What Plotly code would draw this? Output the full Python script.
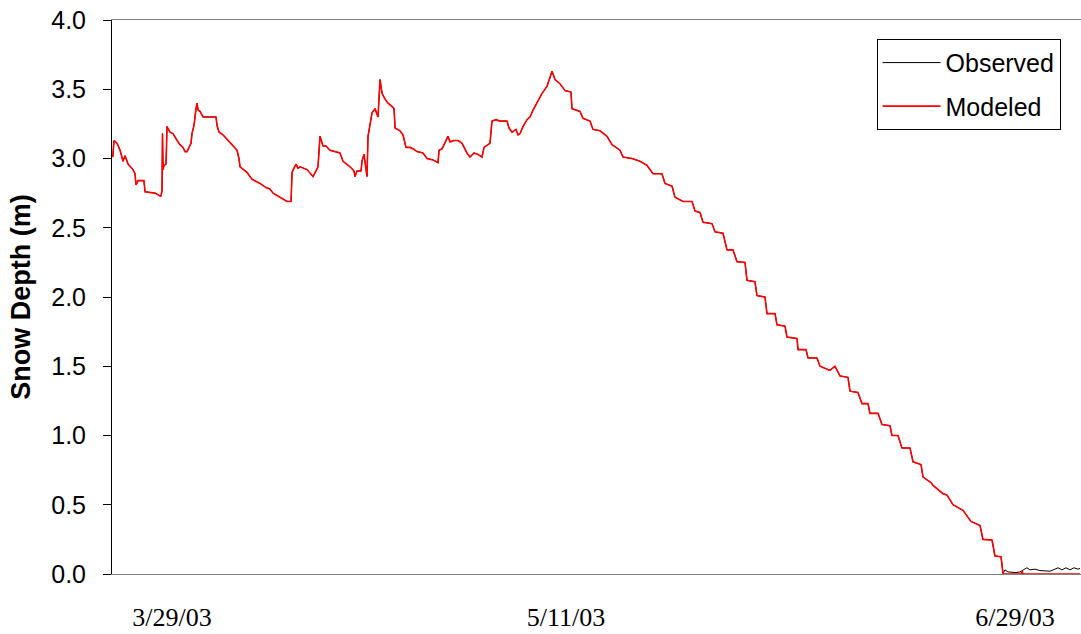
import pandas as pd
import plotly.graph_objects as go

# Time in days relative to 2003-03-29 00:00, snow depth in metres
mod_days = [
    -6.47, -6.33, -6.00, -5.67, -5.35, -5.13, -4.80, -4.26, -4.04, -3.93, -3.71, -3.06, -2.95,
    -1.86, -1.31, -1.20, -1.09, -1.04, -0.98, -0.87, -0.65, -0.55, -0.22, 0.11, 0.55, 0.87,
    1.20, 1.42, 1.64, 1.86, 2.07, 2.18, 2.40, 2.62, 2.73, 2.84, 3.06, 3.38, 4.80, 4.91, 5.13,
    5.57, 6.11, 6.66, 7.09, 7.31, 7.42, 8.18, 8.51, 8.73, 9.60, 10.26, 10.69, 11.02, 11.79,
    12.55, 12.99, 13.10, 13.31, 13.53, 13.75, 13.97, 14.73, 15.39, 15.71, 15.93, 16.15, 16.48,
    16.81, 17.24, 18.33, 18.66, 19.43, 19.86, 19.97, 20.19, 20.63, 20.73, 20.95, 21.17, 21.28,
    21.39, 21.83, 22.15, 22.48, 22.70, 22.92, 23.24, 23.57, 24.12, 24.23, 24.34, 24.88, 25.21,
    25.54, 25.97, 26.30, 26.74, 27.39, 27.83, 28.48, 29.03, 29.14, 29.47, 30.12, 30.34, 30.77,
    31.21, 31.65, 32.19, 32.52, 32.96, 33.39, 33.83, 34.05, 34.49, 34.70, 34.92, 35.36, 35.79,
    36.56, 36.78, 37.10, 37.54, 37.76, 37.98, 38.30, 38.74, 39.07, 39.40, 39.83, 40.38, 40.92,
    41.25, 41.47, 41.80, 42.34, 42.89, 43.54, 43.65, 44.52, 44.85, 45.62, 45.94, 46.71, 47.47,
    48.02, 48.89, 49.22, 50.20, 51.07, 51.84, 52.49, 53.47, 53.80, 54.57, 54.67, 54.89, 55.77,
    56.75, 57.08, 57.62, 57.95, 58.93, 59.26, 60.13, 60.57, 61.22, 61.66, 62.53, 62.75, 63.62,
    63.84, 64.71, 64.93, 65.81, 66.02, 66.90, 67.11, 68.21, 68.32, 69.19, 69.41, 70.39, 70.72,
    71.81, 72.35, 72.90, 73.77, 73.99, 74.86, 75.30, 75.95, 76.17, 77.05, 77.48, 78.36, 78.57,
    79.23, 79.66, 80.54, 80.87, 81.74, 81.96, 82.83, 83.05, 84.14, 84.58, 85.23, 86.32, 87.19,
    88.18, 88.50, 89.49, 89.81, 90.47, 90.69, 90.80, 92.65, 92.76, 92.87, 99.09,
]
mod_depth = [
    3.01, 3.13, 3.11, 3.06, 2.98, 3.02, 2.96, 2.92, 2.89, 2.81, 2.84, 2.84, 2.76,
    2.75, 2.73, 2.73, 2.77, 3.18, 2.92, 2.95, 2.96, 3.23, 3.19, 3.18, 3.13, 3.10,
    3.08, 3.05, 3.05, 3.08, 3.11, 3.18, 3.24, 3.36, 3.40, 3.35, 3.34, 3.30, 3.30, 3.24, 3.19,
    3.17, 3.13, 3.09, 3.06, 3.00, 2.94, 2.90, 2.87, 2.85, 2.82, 2.79, 2.78, 2.75, 2.72,
    2.69, 2.69, 2.90, 2.93, 2.96, 2.93, 2.94, 2.92, 2.87, 2.91, 2.94, 3.16, 3.09,
    3.09, 3.06, 3.04, 2.98, 2.94, 2.91, 2.87, 2.91, 2.91, 2.98, 3.03, 2.92, 2.87,
    3.16, 3.33, 3.36, 3.30, 3.57, 3.47, 3.43, 3.40, 3.37, 3.36, 3.22, 3.20, 3.17,
    3.08, 3.08, 3.07, 3.05, 3.04, 3.00, 2.99, 2.97, 3.06, 3.07, 3.16, 3.12, 3.13,
    3.13, 3.11, 3.04, 3.01, 3.04, 3.03, 3.01, 3.08, 3.10, 3.11, 3.27, 3.28, 3.27,
    3.27, 3.22, 3.19, 3.21, 3.17, 3.18, 3.23, 3.28, 3.30, 3.35, 3.40, 3.47, 3.52,
    3.59, 3.63, 3.57, 3.54, 3.49, 3.48, 3.36, 3.34, 3.29, 3.27, 3.21, 3.20, 3.16,
    3.10, 3.06, 3.01, 3.00, 2.98, 2.95, 2.89, 2.89, 2.82, 2.80, 2.77, 2.72, 2.69,
    2.69, 2.62, 2.61, 2.54, 2.53, 2.47, 2.46, 2.34, 2.34, 2.255, 2.25, 2.12, 2.11,
    2.01, 2.00, 1.88, 1.88, 1.80, 1.79, 1.71, 1.70, 1.62, 1.62, 1.56, 1.56, 1.50,
    1.47, 1.50, 1.43, 1.42, 1.32, 1.31, 1.23, 1.23, 1.16, 1.16, 1.08, 1.07, 1.00,
    1.00, 0.91, 0.91, 0.81, 0.79, 0.70, 0.66, 0.64, 0.58, 0.57, 0.50, 0.46, 0.38,
    0.35, 0.25, 0.245, 0.13, 0.125, 0.005, 0.0, 0.0, 0.02, 0.0, 0.0,
]

# Observed follows the modeled curve until melt-out, then small noisy readings
obs_tail_days = [
    90.90, 91.23, 91.67, 92.10, 92.54, 93.30, 93.63, 94.18, 94.72, 95.27, 95.81,
    96.36, 96.69, 97.12, 97.56, 98.00, 98.43, 98.87, 99.09,
]
obs_tail_depth = [
    0.03, 0.015, 0.01, 0.01, 0.015, 0.045, 0.03, 0.035, 0.025, 0.025, 0.02,
    0.035, 0.045, 0.03, 0.045, 0.03, 0.045, 0.035, 0.04,
]
melt_index = mod_days.index(90.69) + 1
obs_days = mod_days[:melt_index] + obs_tail_days
obs_depth = mod_depth[:melt_index] + obs_tail_depth

tick_dates = ["2003-03-29", "2003-05-11", "2003-06-29"]
tick_labels = ["3/29/03", "5/11/03", "6/29/03"]

base = pd.Timestamp("2003-03-29")
obs_x = base + pd.to_timedelta(obs_days, unit="D")
mod_x = base + pd.to_timedelta(mod_days, unit="D")

fig = go.Figure()
fig.add_trace(go.Scatter(x=obs_x, y=obs_depth, mode="lines", name="Observed",
                         line=dict(color="black", width=1), legendgroup="o"))
fig.add_trace(go.Scatter(x=mod_x, y=mod_depth, mode="lines", name="Modeled",
                         line=dict(color="#FF0000", width=1.6), legendgroup="m"))

fig.update_layout(
    template="none",
    width=1081, height=634,
    margin=dict(l=112, r=0, t=20, b=60),
    paper_bgcolor="white", plot_bgcolor="white",
    font=dict(family="Liberation Sans, Arial", size=25, color="black"),
    showlegend=True,
    legend=dict(
        x=0.789, y=0.966, xanchor="left", yanchor="top",
        bordercolor="black", borderwidth=1, bgcolor="white",
        font=dict(size=25), tracegroupgap=8, itemwidth=58,
    ),
)
fig.update_xaxes(
    type="date", automargin=False,
    range=[base - pd.Timedelta(days=6.55), base + pd.Timedelta(days=99.2)],
    tickvals=pd.to_datetime(tick_dates), ticktext=tick_labels,
    tickfont=dict(family="Liberation Serif, Times New Roman", size=26),
    ticks="outside", ticklen=20, tickcolor="rgba(0,0,0,0)",
    showgrid=False, zeroline=False,
    showline=True, linecolor="#808080", linewidth=1, mirror=True,
)
fig.update_yaxes(
    automargin=False,
    range=[0, 4], dtick=0.5, tickformat=".1f",
    ticks="outside", ticklen=8, tickcolor="black", tickwidth=1,
    ticklabelstandoff=12,
    showgrid=False, zeroline=False,
    showline=True, linecolor="black", linewidth=1,
    title=dict(text="<b>Snow Depth (m)</b>", font=dict(size=27), standoff=12),
)

fig.write_html("out.html")
